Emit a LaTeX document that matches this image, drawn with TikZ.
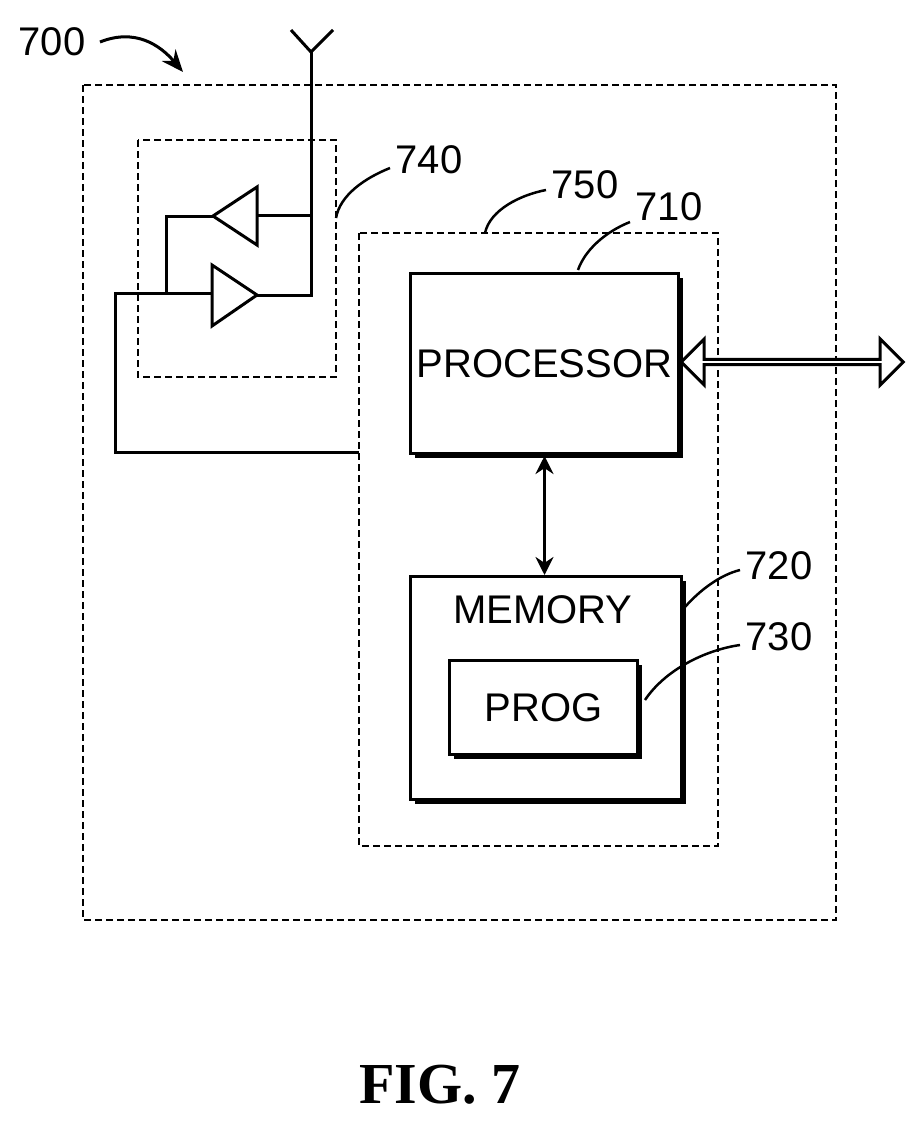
\documentclass[tikz,border=0pt]{standalone}
\usepackage{fontspec}
\setmainfont{Liberation Sans}
\newfontfamily\figfont{Liberation Serif}
\usetikzlibrary{arrows.meta,shapes.arrows}
\tikzset{
  box/.style={draw, line width=3pt, fill=white},
  shadow/.style={fill=black},
  dashbox/.style={line width=2.5pt, dash pattern=on 7pt off 4pt},
  wire/.style={line width=3pt},
  leader/.style={line width=2.5pt},
  lbl/.style={font=\fontsize{40}{40}\selectfont},
  amp/.style={line width=3pt, fill=white}
}
\begin{document}
\begin{tikzpicture}[x=1pt, y=-1pt]
  \useasboundingbox (0,0) rectangle (920,1125);
  % Dashed enclosures
  \draw[dashbox] (83,85) rectangle (836,920);
  \draw[dashbox] (138,140) rectangle (336,377);
  \draw[dashbox] (359,233) rectangle (718,846);
  % Antenna
  \coordinate (ant) at (311,52);
  \draw[wire] (291,30) -- (ant) -- (333,30);
  \draw[wire] (ant) -- (311,297);
  % Amplifiers
  \draw[amp] (213,216) -- (257,187) -- (257,245) -- cycle;
  \draw[amp] (257,295) -- (212,265) -- (212,326) -- cycle;
  \draw[wire] (257,215) -- (311,215);
  \draw[wire] (257,295) -- (311,295);
  \draw[wire] (213,216) -- (166,216) -- (166,293);
  \draw[wire] (212,293) -- (115,293) -- (115,452) -- (359,452);
  % Blocks with shadows
  \fill[shadow] (415,278) rectangle (683,458);
  \node[box, minimum width=268pt, minimum height=180pt, anchor=north west,
        lbl, inner sep=0pt] (proc) at (409,272) {PROCESSOR};
  \fill[shadow] (415,581) rectangle (686,804);
  \node[box, minimum width=271pt, minimum height=223pt, anchor=north west] (mem) at (409,575) {};
  \node[lbl, anchor=north] (memtxt) at (543,592) {MEMORY};
  \fill[shadow] (454,665) rectangle (642,759);
  \node[box, minimum width=188pt, minimum height=94pt, anchor=north west,
        lbl, inner sep=0pt] (prog) at (448,659) {PROG};
  % Arrows
  \draw[line width=3pt, {Stealth[length=18pt,width=18pt]}-{Stealth[length=18pt,width=18pt]}]
    (proc.south) ++(0,-1pt) coordinate (p1) (p1) -- (mem.north -| p1);
  \node[draw, line width=3pt, fill=white, double arrow, double arrow head extend=12pt,
        minimum height=222pt, minimum width=46pt, inner sep=0pt, anchor=west] (bus)
    at (679,362) {};
  % Leaders and labels
  \node[lbl, anchor=west] (l700) at (15,42) {700};
  \draw[line width=3pt, -{Stealth[length=22pt,width=18pt]}] (100,42) .. controls (135,28) and (160,45) .. (183,72);
  \node[lbl, anchor=west] (l740) at (392,160) {740};
  \draw[leader] (336,218) .. controls (340,195) and (365,178) .. (390,168);
  \node[lbl, anchor=west] (l750) at (548,185) {750};
  \draw[leader] (485,233) .. controls (490,210) and (520,195) .. (546,190);
  \node[lbl, anchor=west] (l710) at (632,207) {710};
  \draw[leader] (578,270) .. controls (585,250) and (605,232) .. (630,222);
  \node[lbl, anchor=west] (l720) at (742,566) {720};
  \draw[leader] (685,607) .. controls (700,590) and (720,575) .. (740,570);
  \node[lbl, anchor=west] (l730) at (742,637) {730};
  \draw[leader] (645,700) .. controls (665,670) and (705,650) .. (740,645);
  \node[font=\figfont\bfseries\fontsize{58}{58}\selectfont] (fig) at (440,1085) {FIG. 7};
\end{tikzpicture}
\end{document}
